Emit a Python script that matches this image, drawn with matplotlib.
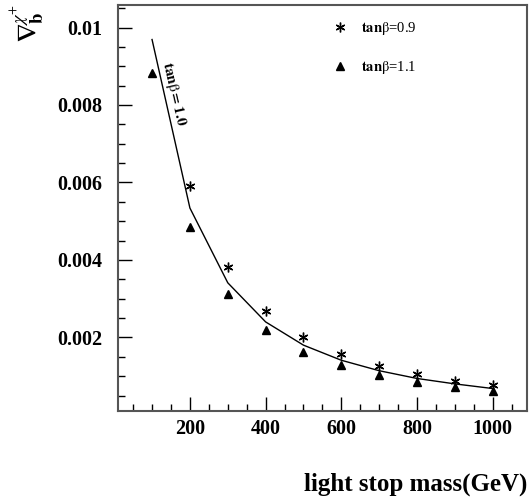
import numpy as np
import matplotlib
matplotlib.use("Agg")
import matplotlib.pyplot as plt
from matplotlib.ticker import MultipleLocator

plt.rcParams['font.family'] = ['Liberation Serif', 'DejaVu Serif']
plt.rcParams['mathtext.fontset'] = 'stix'

# data
mass_line = [100, 200, 300, 400, 500, 600, 700, 800, 900, 1000]
grad_tb10 = [0.00969, 0.00534, 0.00341, 0.00240, 0.00180, 0.00141, 0.00114, 0.00094, 0.00080, 0.00068]

mass_tb09 = [200, 300, 400, 500, 600, 700, 800, 900, 1000]
grad_tb09 = [0.00592, 0.00381, 0.00268, 0.00201, 0.00157, 0.00127, 0.00105, 0.00088, 0.00077]

mass_tb11 = [100, 200, 300, 400, 500, 600, 700, 800, 900, 1000]
grad_tb11 = [0.00883, 0.00485, 0.00311, 0.00219, 0.00163, 0.00128, 0.00103, 0.00086, 0.00073, 0.00062]

x_ticks = [200, 400, 600, 800, 1000]
y_ticks = [0.002, 0.004, 0.006, 0.008, 0.01]
y_ticklabels = ['0.002', '0.004', '0.006', '0.008', '0.01']

fig = plt.figure(figsize=(5.29, 5.04), dpi=100)
ax = fig.add_axes([0.223, 0.1845, 0.773, 0.8055])

ax.plot(mass_line, grad_tb10, color='black', lw=1.0)
star, = ax.plot(mass_tb09, grad_tb09, ls='none', marker=(6, 2, 0), ms=7,
                mec='black', mew=1.0, color='black')
tri, = ax.plot(mass_tb11, grad_tb11, ls='none', marker='^', ms=6,
               color='black')

ax.text(158, 0.00828, r'$\mathbf{tan}\mathrm{\beta}$$\mathbf{=1.0}$', rotation=-77,
        ha='center', va='center', fontsize=11, fontweight='bold')

leg = ax.legend([star, tri],
                [r'$\mathbf{tan}\mathrm{\beta}$=0.9', r'$\mathbf{tan}\mathrm{\beta}$=1.1'],
                loc='upper left', bbox_to_anchor=(0.49, 0.995), frameon=False,
                fontsize=10.5, handlelength=1.2, handletextpad=0.8,
                labelspacing=1.5, markerscale=1.0)

ax.set_xlim(10, 1090)
ax.set_ylim(0.0001, 0.01058)
ax.set_xticks(x_ticks)
ax.xaxis.set_minor_locator(MultipleLocator(50))
ax.set_yticks(y_ticks)
ax.set_yticklabels(y_ticklabels)
ax.yaxis.set_minor_locator(MultipleLocator(0.0005))
ax.tick_params(which='major', direction='in', length=10, width=1.0,
               labelsize=14.5)
ax.tick_params(axis='y', which='major', pad=11)
ax.tick_params(axis='x', which='major', pad=6)
ax.tick_params(which='minor', direction='in', length=5, width=1.0)
for lab in ax.get_xticklabels() + ax.get_yticklabels():
    lab.set_fontweight('bold')
for sp in ax.spines.values():
    sp.set_color('#555555')
    sp.set_linewidth(1.5)

fig.text(0.997, 0.015, 'light stop mass(GeV)', ha='right', va='bottom',
         fontsize=18, fontweight='bold')
fig.text(0.052, 0.992, r'$\mathbf{\nabla}_{\mathbf{b}}^{\chi^{+}}$', rotation=90,
         ha='center', va='top', fontsize=19)

fig.savefig('out.png', dpi=100)
